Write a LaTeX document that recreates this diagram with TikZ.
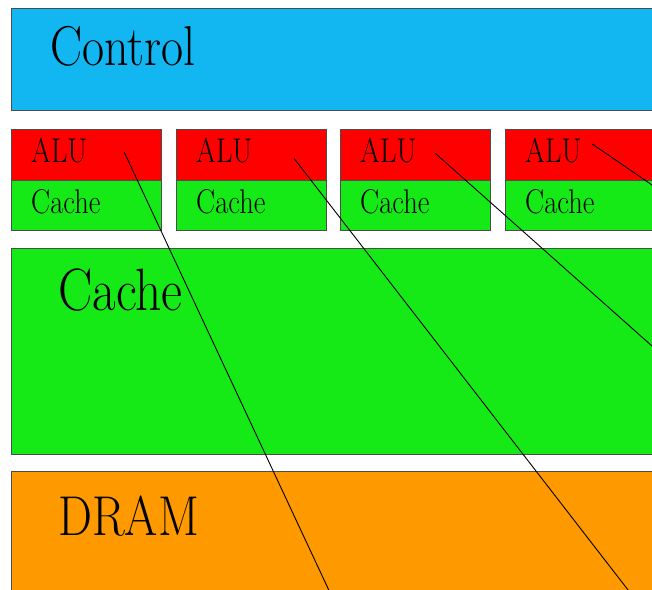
\documentclass[tikz,border=0pt]{standalone}
\usepackage{graphicx}
\usetikzlibrary{calc}
\definecolor{ctrlblue}{RGB}{18,183,242}
\definecolor{alured}{RGB}{255,0,0}
\definecolor{cachegreen}{RGB}{22,234,22}
\definecolor{dramorange}{RGB}{255,153,0}
\tikzset{
  unit/.style={draw=black!70, line width=0.8pt, rectangle, anchor=north west,
               inner sep=0pt, outer sep=0pt},
  bigtext/.style={anchor=base west, inner sep=0pt},
  smalltext/.style={anchor=base west, inner sep=0pt},
  wire/.style={draw=black, line width=0.9pt}
}
\newcommand{\bigtxt}[1]{\scalebox{1}[1.17]{\fontsize{48}{48}\selectfont #1}}
\newcommand{\smalltxt}[1]{\scalebox{1}[1.2]{\fontsize{28.6}{28.6}\selectfont #1}}
\begin{document}
\begin{tikzpicture}[x=1pt,y=-1pt]
  \useasboundingbox (0,0) rectangle (652,589);
  \clip (0,0) rectangle (652,589);
  \fill[white] (0,0) rectangle (652,589);

  % control block
  \node[unit, fill=ctrlblue, minimum width=700pt, minimum height=102pt] (ctrl) at (11,8) {};
  \node[bigtext] (ctrltxt) at (50,65) {\bigtxt{Control}};

  % four ALU / cache cores
  \foreach \i/\x in {1/11,2/176,3/340,4/505}{
    \node[unit, fill=alured, minimum width=150pt, minimum height=51pt] (alu\i) at (\x,129) {};
    \node[unit, fill=cachegreen, minimum width=150pt, minimum height=50pt] (l1\i) at (\x,180) {};
    \node[smalltext] (alutxt\i) at (\x+20,162) {\smalltxt{ALU}};
    \node[smalltext] (l1txt\i) at (\x+20,213) {\smalltxt{Cache}};
  }

  % shared cache
  \node[unit, fill=cachegreen, minimum width=700pt, minimum height=206pt] (cache) at (11,248) {};
  \node[bigtext] (cachetxt) at (58,310) {\scalebox{1}[1.165]{\fontsize{51.3}{51.3}\selectfont Cache}};

  % DRAM
  \node[unit, fill=dramorange, minimum width=700pt, minimum height=250pt] (dram) at (11,471) {};
  \node[bigtext] (dramtxt) at (58,535) {\bigtxt{DRAM}};

  % wires leaving each ALU
  \coordinate (s1) at (124.3,152.3);
  \coordinate (s2) at (294,158.3);
  \coordinate (s3) at (435.3,153.3);
  \coordinate (s4) at (592.3,144);
  \coordinate (e1) at ($(s1)!1.2!(328.3,589)$);
  \coordinate (e2) at ($(s2)!1.2!(627.3,589)$);
  \coordinate (e3) at ($(s3)!1.2!(652,346)$);
  \coordinate (e4) at ($(s4)!1.5!(652,185)$);
  \foreach \i in {1,2,3,4}{
    \draw[wire] (s\i) -- (e\i);
  }
\end{tikzpicture}
\end{document}
